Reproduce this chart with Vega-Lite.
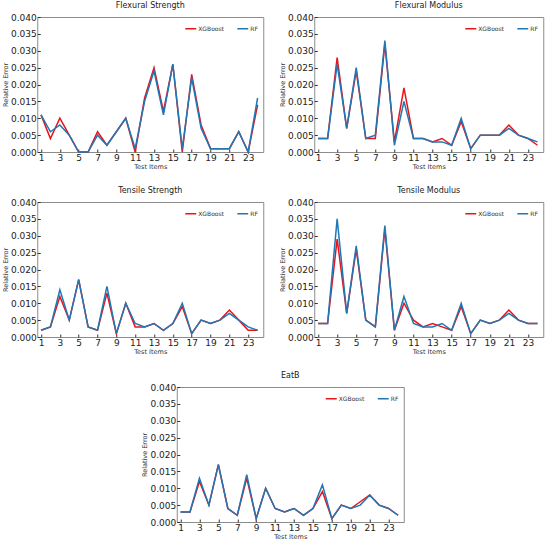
{
  "$schema": "https://vega.github.io/schema/vega-lite/v6.json",
  "padding": {"left": 1, "right": 1, "top": 1, "bottom": 0},
  "datasets": {
    "fs": [
      {"item": 1, "XGBoost": 0.011, "RF": 0.011},
      {"item": 2, "XGBoost": 0.004, "RF": 0.006},
      {"item": 3, "XGBoost": 0.010, "RF": 0.008},
      {"item": 4, "XGBoost": 0.005, "RF": 0.005},
      {"item": 5, "XGBoost": 0.000, "RF": 0.000},
      {"item": 6, "XGBoost": 0.000, "RF": 0.000},
      {"item": 7, "XGBoost": 0.006, "RF": 0.005},
      {"item": 8, "XGBoost": 0.002, "RF": 0.002},
      {"item": 9, "XGBoost": 0.006, "RF": 0.006},
      {"item": 10, "XGBoost": 0.010, "RF": 0.010},
      {"item": 11, "XGBoost": 0.000, "RF": 0.001},
      {"item": 12, "XGBoost": 0.016, "RF": 0.015},
      {"item": 13, "XGBoost": 0.025, "RF": 0.024},
      {"item": 14, "XGBoost": 0.012, "RF": 0.011},
      {"item": 15, "XGBoost": 0.026, "RF": 0.026},
      {"item": 16, "XGBoost": 0.000, "RF": 0.001},
      {"item": 17, "XGBoost": 0.023, "RF": 0.022},
      {"item": 18, "XGBoost": 0.008, "RF": 0.007},
      {"item": 19, "XGBoost": 0.001, "RF": 0.001},
      {"item": 20, "XGBoost": 0.001, "RF": 0.001},
      {"item": 21, "XGBoost": 0.001, "RF": 0.001},
      {"item": 22, "XGBoost": 0.006, "RF": 0.006},
      {"item": 23, "XGBoost": 0.000, "RF": 0.000},
      {"item": 24, "XGBoost": 0.014, "RF": 0.016}
    ],
    "fm": [
      {"item": 1, "XGBoost": 0.004, "RF": 0.004},
      {"item": 2, "XGBoost": 0.004, "RF": 0.004},
      {"item": 3, "XGBoost": 0.028, "RF": 0.026},
      {"item": 4, "XGBoost": 0.007, "RF": 0.007},
      {"item": 5, "XGBoost": 0.024, "RF": 0.025},
      {"item": 6, "XGBoost": 0.004, "RF": 0.004},
      {"item": 7, "XGBoost": 0.004, "RF": 0.005},
      {"item": 8, "XGBoost": 0.032, "RF": 0.033},
      {"item": 9, "XGBoost": 0.003, "RF": 0.002},
      {"item": 10, "XGBoost": 0.019, "RF": 0.015},
      {"item": 11, "XGBoost": 0.004, "RF": 0.004},
      {"item": 12, "XGBoost": 0.004, "RF": 0.004},
      {"item": 13, "XGBoost": 0.003, "RF": 0.003},
      {"item": 14, "XGBoost": 0.004, "RF": 0.003},
      {"item": 15, "XGBoost": 0.002, "RF": 0.002},
      {"item": 16, "XGBoost": 0.009, "RF": 0.010},
      {"item": 17, "XGBoost": 0.001, "RF": 0.001},
      {"item": 18, "XGBoost": 0.005, "RF": 0.005},
      {"item": 19, "XGBoost": 0.005, "RF": 0.005},
      {"item": 20, "XGBoost": 0.005, "RF": 0.005},
      {"item": 21, "XGBoost": 0.008, "RF": 0.007},
      {"item": 22, "XGBoost": 0.005, "RF": 0.005},
      {"item": 23, "XGBoost": 0.004, "RF": 0.004},
      {"item": 24, "XGBoost": 0.002, "RF": 0.003}
    ],
    "ts": [
      {"item": 1, "XGBoost": 0.002, "RF": 0.002},
      {"item": 2, "XGBoost": 0.003, "RF": 0.003},
      {"item": 3, "XGBoost": 0.012, "RF": 0.014},
      {"item": 4, "XGBoost": 0.005, "RF": 0.005},
      {"item": 5, "XGBoost": 0.017, "RF": 0.017},
      {"item": 6, "XGBoost": 0.003, "RF": 0.003},
      {"item": 7, "XGBoost": 0.002, "RF": 0.002},
      {"item": 8, "XGBoost": 0.013, "RF": 0.015},
      {"item": 9, "XGBoost": 0.001, "RF": 0.001},
      {"item": 10, "XGBoost": 0.010, "RF": 0.010},
      {"item": 11, "XGBoost": 0.003, "RF": 0.004},
      {"item": 12, "XGBoost": 0.003, "RF": 0.003},
      {"item": 13, "XGBoost": 0.004, "RF": 0.004},
      {"item": 14, "XGBoost": 0.002, "RF": 0.002},
      {"item": 15, "XGBoost": 0.004, "RF": 0.004},
      {"item": 16, "XGBoost": 0.009, "RF": 0.010},
      {"item": 17, "XGBoost": 0.001, "RF": 0.001},
      {"item": 18, "XGBoost": 0.005, "RF": 0.005},
      {"item": 19, "XGBoost": 0.004, "RF": 0.004},
      {"item": 20, "XGBoost": 0.005, "RF": 0.005},
      {"item": 21, "XGBoost": 0.008, "RF": 0.007},
      {"item": 22, "XGBoost": 0.005, "RF": 0.005},
      {"item": 23, "XGBoost": 0.002, "RF": 0.003},
      {"item": 24, "XGBoost": 0.002, "RF": 0.002}
    ],
    "tm": [
      {"item": 1, "XGBoost": 0.004, "RF": 0.004},
      {"item": 2, "XGBoost": 0.004, "RF": 0.004},
      {"item": 3, "XGBoost": 0.029, "RF": 0.035},
      {"item": 4, "XGBoost": 0.007, "RF": 0.007},
      {"item": 5, "XGBoost": 0.026, "RF": 0.027},
      {"item": 6, "XGBoost": 0.005, "RF": 0.005},
      {"item": 7, "XGBoost": 0.003, "RF": 0.003},
      {"item": 8, "XGBoost": 0.032, "RF": 0.033},
      {"item": 9, "XGBoost": 0.002, "RF": 0.002},
      {"item": 10, "XGBoost": 0.010, "RF": 0.012},
      {"item": 11, "XGBoost": 0.005, "RF": 0.004},
      {"item": 12, "XGBoost": 0.003, "RF": 0.003},
      {"item": 13, "XGBoost": 0.004, "RF": 0.003},
      {"item": 14, "XGBoost": 0.003, "RF": 0.004},
      {"item": 15, "XGBoost": 0.002, "RF": 0.002},
      {"item": 16, "XGBoost": 0.009, "RF": 0.010},
      {"item": 17, "XGBoost": 0.001, "RF": 0.001},
      {"item": 18, "XGBoost": 0.005, "RF": 0.005},
      {"item": 19, "XGBoost": 0.004, "RF": 0.004},
      {"item": 20, "XGBoost": 0.005, "RF": 0.005},
      {"item": 21, "XGBoost": 0.008, "RF": 0.007},
      {"item": 22, "XGBoost": 0.005, "RF": 0.005},
      {"item": 23, "XGBoost": 0.004, "RF": 0.004},
      {"item": 24, "XGBoost": 0.004, "RF": 0.004}
    ],
    "eatb": [
      {"item": 1, "XGBoost": 0.003, "RF": 0.003},
      {"item": 2, "XGBoost": 0.003, "RF": 0.003},
      {"item": 3, "XGBoost": 0.012, "RF": 0.013},
      {"item": 4, "XGBoost": 0.005, "RF": 0.005},
      {"item": 5, "XGBoost": 0.017, "RF": 0.017},
      {"item": 6, "XGBoost": 0.004, "RF": 0.004},
      {"item": 7, "XGBoost": 0.002, "RF": 0.002},
      {"item": 8, "XGBoost": 0.013, "RF": 0.014},
      {"item": 9, "XGBoost": 0.001, "RF": 0.001},
      {"item": 10, "XGBoost": 0.010, "RF": 0.010},
      {"item": 11, "XGBoost": 0.004, "RF": 0.004},
      {"item": 12, "XGBoost": 0.003, "RF": 0.003},
      {"item": 13, "XGBoost": 0.004, "RF": 0.004},
      {"item": 14, "XGBoost": 0.002, "RF": 0.002},
      {"item": 15, "XGBoost": 0.004, "RF": 0.004},
      {"item": 16, "XGBoost": 0.009, "RF": 0.011},
      {"item": 17, "XGBoost": 0.001, "RF": 0.001},
      {"item": 18, "XGBoost": 0.005, "RF": 0.005},
      {"item": 19, "XGBoost": 0.004, "RF": 0.004},
      {"item": 20, "XGBoost": 0.006, "RF": 0.005},
      {"item": 21, "XGBoost": 0.008, "RF": 0.008},
      {"item": 22, "XGBoost": 0.005, "RF": 0.005},
      {"item": 23, "XGBoost": 0.004, "RF": 0.004},
      {"item": 24, "XGBoost": 0.002, "RF": 0.002}
    ]
  },
  "vconcat": [
    {
      "hconcat": [
        {
          "title": "Flexural Strength",
          "width": 226, "height": 135,
          "data": {"name": "fs"},
          "transform": [{"fold": ["XGBoost", "RF"], "as": ["model", "error"]}],
          "mark": {"type": "line", "strokeWidth": 1.5},
          "encoding": {
            "x": {"field": "item", "type": "quantitative", "scale": {"domain": [0.6, 24.6], "nice": false}, "axis": {"title": "Test Items", "values": [1, 3, 5, 7, 9, 11, 13, 15, 17, 19, 21, 23]}},
            "y": {"field": "error", "type": "quantitative", "scale": {"domain": [0, 0.04], "nice": false}, "axis": {"title": "Relative Error", "values": [0, 0.005, 0.01, 0.015, 0.02, 0.025, 0.03, 0.035, 0.04], "format": ".3f"}},
            "color": {"field": "model", "type": "nominal", "scale": {"domain": ["XGBoost", "RF"], "range": ["#e8141c", "#1f77b4"]}}
          }
        },
        {
          "title": "Flexural Modulus",
          "width": 229, "height": 135,
          "data": {"name": "fm"},
          "transform": [{"fold": ["XGBoost", "RF"], "as": ["model", "error"]}],
          "mark": {"type": "line", "strokeWidth": 1.5},
          "encoding": {
            "x": {"field": "item", "type": "quantitative", "scale": {"domain": [0.6, 24.6], "nice": false}, "axis": {"title": "Test Items", "values": [1, 3, 5, 7, 9, 11, 13, 15, 17, 19, 21, 23]}},
            "y": {"field": "error", "type": "quantitative", "scale": {"domain": [0, 0.04], "nice": false}, "axis": {"title": "Relative Error", "values": [0, 0.005, 0.01, 0.015, 0.02, 0.025, 0.03, 0.035, 0.04], "format": ".3f"}},
            "color": {"field": "model", "type": "nominal", "scale": {"domain": ["XGBoost", "RF"], "range": ["#e8141c", "#1f77b4"]}}
          }
        }
      ],
      "spacing": 14,
      "resolve": {"scale": {"color": "independent"}, "legend": {"color": "independent"}}
    },
    {
      "hconcat": [
        {
          "title": "Tensile Strength",
          "width": 226, "height": 135,
          "data": {"name": "ts"},
          "transform": [{"fold": ["XGBoost", "RF"], "as": ["model", "error"]}],
          "mark": {"type": "line", "strokeWidth": 1.5},
          "encoding": {
            "x": {"field": "item", "type": "quantitative", "scale": {"domain": [0.6, 24.6], "nice": false}, "axis": {"title": "Test Items", "values": [1, 3, 5, 7, 9, 11, 13, 15, 17, 19, 21, 23]}},
            "y": {"field": "error", "type": "quantitative", "scale": {"domain": [0, 0.04], "nice": false}, "axis": {"title": "Relative Error", "values": [0, 0.005, 0.01, 0.015, 0.02, 0.025, 0.03, 0.035, 0.04], "format": ".3f"}},
            "color": {"field": "model", "type": "nominal", "scale": {"domain": ["XGBoost", "RF"], "range": ["#e8141c", "#1f77b4"]}}
          }
        },
        {
          "title": "Tensile Modulus",
          "width": 229, "height": 135,
          "data": {"name": "tm"},
          "transform": [{"fold": ["XGBoost", "RF"], "as": ["model", "error"]}],
          "mark": {"type": "line", "strokeWidth": 1.5},
          "encoding": {
            "x": {"field": "item", "type": "quantitative", "scale": {"domain": [0.6, 24.6], "nice": false}, "axis": {"title": "Test Items", "values": [1, 3, 5, 7, 9, 11, 13, 15, 17, 19, 21, 23]}},
            "y": {"field": "error", "type": "quantitative", "scale": {"domain": [0, 0.04], "nice": false}, "axis": {"title": "Relative Error", "values": [0, 0.005, 0.01, 0.015, 0.02, 0.025, 0.03, 0.035, 0.04], "format": ".3f"}},
            "color": {"field": "model", "type": "nominal", "scale": {"domain": ["XGBoost", "RF"], "range": ["#e8141c", "#1f77b4"]}}
          }
        }
      ],
      "spacing": 14,
      "resolve": {"scale": {"color": "independent"}, "legend": {"color": "independent"}}
    },
    {
      "title": "EatB",
      "width": 227, "height": 135,
      "data": {"name": "eatb"},
      "transform": [{"fold": ["XGBoost", "RF"], "as": ["model", "error"]}],
      "mark": {"type": "line", "strokeWidth": 1.5},
      "encoding": {
        "x": {"field": "item", "type": "quantitative", "scale": {"domain": [0.6, 24.6], "nice": false}, "axis": {"title": "Test Items", "values": [1, 3, 5, 7, 9, 11, 13, 15, 17, 19, 21, 23]}},
        "y": {"field": "error", "type": "quantitative", "scale": {"domain": [0, 0.04], "nice": false}, "axis": {"title": "Relative Error", "values": [0, 0.005, 0.01, 0.015, 0.02, 0.025, 0.03, 0.035, 0.04], "format": ".3f"}},
        "color": {"field": "model", "type": "nominal", "scale": {"domain": ["XGBoost", "RF"], "range": ["#e8141c", "#1f77b4"]}}
      }
    }
  ],
  "center": true,
  "spacing": 16,
  "resolve": {"scale": {"color": "independent"}, "legend": {"color": "independent"}},
  "config": {
    "font": "DejaVu Sans",
    "view": {"stroke": "#8c8c8c", "strokeWidth": 1},
    "title": {"fontSize": 8, "fontWeight": "normal", "color": "#222", "offset": 3},
    "axis": {
      "domain": false,
      "grid": false,
      "tickSize": -3,
      "tickColor": "#333",
      "labelFontSize": 9,
      "labelColor": "#222",
      "labelPadding": 4,
      "titleFontSize": 6.5,
      "titleFontWeight": "normal",
      "titleColor": "#333",
      "titlePadding": 2
    },
    "axisX": {"titlePadding": 1},
    "legend": {
      "title": null,
      "orient": "top-right",
      "direction": "horizontal",
      "offset": 5,
      "symbolType": "stroke",
      "symbolSize": 120,
      "symbolStrokeWidth": 1.5,
      "labelFontSize": 6,
      "labelColor": "#333",
      "labelOffset": 1,
      "columnPadding": 10
    }
  }
}
